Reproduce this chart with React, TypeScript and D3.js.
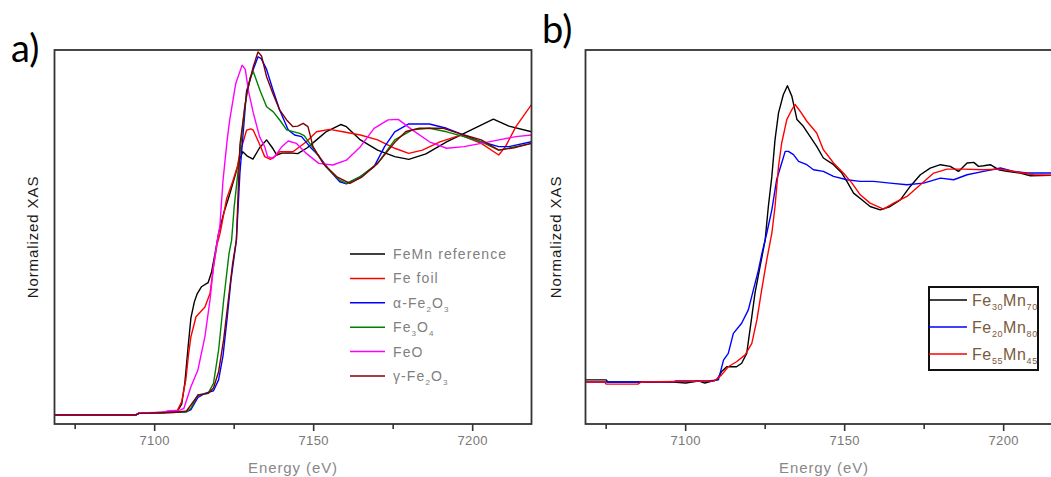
import React from "react"
import * as d3 from "d3"

const energyDomain = [7068.5, 7218.5]
const majorTicks = [7100, 7150, 7200]
const minorTicks = [7075, 7125, 7175]

// panel a: reference compounds, [energy, normalized XAS]
const feMnRef = [[7068.5,0],[7094,0],[7095,0.006],[7107,0.012],[7108.5,0.04],[7109.5,0.12],[7110.5,0.25],[7111.4,0.36],[7112.5,0.42],[7113.4,0.45],[7114.7,0.475],[7116.8,0.49],[7117.9,0.53],[7119,0.6],[7120.1,0.673],[7121.7,0.747],[7123.4,0.81],[7125.5,0.895],[7126.6,0.944],[7127.7,0.975],[7129,0.96],[7130.9,0.948],[7133,0.99],[7135.2,1.019],[7137,0.99],[7138.4,0.963],[7140,0.97],[7142.5,0.971],[7145,0.968],[7148,0.99],[7150.9,1.019],[7154,1.05],[7158.5,1.076],[7160.3,1.068],[7164.7,1.019],[7170.1,0.981],[7175.5,0.957],[7179.9,0.947],[7185.3,0.967],[7191.8,1.012],[7197.3,1.043],[7206.5,1.096],[7211.4,1.07],[7218.5,1.049]]
const feFoil = [[7068.5,0],[7094,0],[7095,0.006],[7103,0.008],[7104,0.012],[7107,0.014],[7108.5,0.05],[7109.8,0.13],[7110.6,0.22],[7111.4,0.29],[7113,0.364],[7115.8,0.4],[7117.4,0.45],[7118.5,0.55],[7119.6,0.63],[7120.5,0.67],[7121,0.7],[7122.6,0.8],[7124.5,0.864],[7126,0.92],[7126.8,0.97],[7128.9,1.055],[7130.2,1.06],[7131,1.055],[7133.1,1.0],[7134.6,0.957],[7136.4,0.947],[7138,0.96],[7139.3,0.975],[7143.5,0.975],[7147.7,1.012],[7150.9,1.049],[7155,1.058],[7159.2,1.049],[7164.7,1.037],[7170.1,1.019],[7175.5,0.988],[7179.9,0.969],[7184.2,0.981],[7189.7,1.012],[7196.2,1.037],[7202.7,1.006],[7208.2,0.963],[7210.3,0.994],[7213.6,1.068],[7218.5,1.15]]
const alphaFe2O3 = [[7068.5,0],[7094,0],[7095,0.006],[7107,0.01],[7110,0.012],[7111.4,0.02],[7113.6,0.065],[7115.8,0.08],[7118.5,0.09],[7120.1,0.13],[7121.5,0.22],[7122.8,0.36],[7124,0.5],[7125.7,0.648],[7126.8,0.895],[7128.9,1.2],[7131,1.28],[7132.5,1.327],[7133.5,1.32],[7135.2,1.28],[7137.2,1.204],[7139.3,1.13],[7142,1.056],[7144,1.037],[7146.2,1.031],[7148.8,0.994],[7151.6,0.96],[7154.9,0.907],[7158.2,0.864],[7160.3,0.856],[7164.7,0.883],[7169,0.92],[7172.3,0.994],[7175.5,1.049],[7179.9,1.078],[7186.4,1.078],[7191.8,1.062],[7197.3,1.037],[7202.7,1.012],[7208.2,0.994],[7211.4,0.994],[7218.5,1.012]]
const fe3O4 = [[7068.5,0],[7094,0],[7095,0.006],[7107,0.01],[7110,0.012],[7111.4,0.025],[7113.6,0.074],[7116.8,0.08],[7118.5,0.117],[7120.1,0.24],[7121.7,0.426],[7123.4,0.6],[7124.2,0.648],[7125,0.77],[7126.6,0.944],[7128.3,1.14],[7130,1.25],[7131,1.272],[7133.2,1.2],[7135.2,1.142],[7137.3,1.123],[7139.5,1.09],[7141.5,1.056],[7145.6,1.043],[7147,1.035],[7149.5,0.994],[7153.8,0.92],[7158.2,0.87],[7160.3,0.858],[7164.7,0.883],[7170.1,0.932],[7175.5,1.019],[7181,1.056],[7186.4,1.062],[7191.8,1.049],[7197.3,1.031],[7202.7,1.012],[7208.2,0.981],[7213.6,0.994],[7218.5,1.006]]
const feO = [[7068.5,0],[7094,0],[7095,0.008],[7103,0.01],[7104,0.015],[7108,0.018],[7109.2,0.025],[7111.4,0.105],[7113.6,0.167],[7115.8,0.29],[7117.4,0.426],[7118.5,0.55],[7119.6,0.64],[7120.5,0.7],[7121.5,0.87],[7122.8,1.019],[7123.6,1.093],[7125.5,1.228],[7127.5,1.296],[7128.5,1.28],[7129.5,1.2],[7131,1.12],[7133,1.03],[7134.6,0.994],[7135.5,0.957],[7137.2,0.95],[7138.5,0.97],[7140,0.994],[7142,1.015],[7144.6,1.006],[7147.7,0.969],[7151.6,0.932],[7156,0.926],[7160.3,0.944],[7164.7,0.994],[7169,1.062],[7173.4,1.093],[7176.6,1.095],[7181,1.056],[7186.4,1.012],[7191.8,0.988],[7197.3,0.994],[7202.7,1.006],[7208.2,1.019],[7213.6,1.031],[7218.5,1.037]]
const gammaFe2O3 = [[7068.5,0],[7094,0],[7095,0.006],[7107,0.01],[7110,0.015],[7111.4,0.037],[7113.6,0.074],[7116.8,0.08],[7118.5,0.1],[7120.1,0.16],[7121.7,0.28],[7123.4,0.45],[7124.5,0.56],[7125.7,0.648],[7126.8,1.0],[7128.9,1.19],[7131,1.29],[7132.5,1.345],[7133.6,1.33],[7135.2,1.253],[7137.2,1.19],[7139.3,1.13],[7141.5,1.093],[7143.5,1.068],[7145,1.07],[7146.7,1.08],[7148.2,1.068],[7149.8,0.994],[7153,0.932],[7157.2,0.883],[7161.4,0.858],[7165,0.88],[7170.1,0.932],[7175.5,1.01],[7179,1.05],[7183.2,1.062],[7190.8,1.062],[7197.3,1.037],[7202.7,1.019],[7208.2,0.981],[7213,0.99],[7218.5,1.006]]

// panel b: FeMn samples
const fe30Mn70 = [[7068.5,0.01],[7075,0.01],[7075.5,0],[7096,0],[7100,-0.005],[7104,0.005],[7106,-0.005],[7109.8,0.01],[7111.3,0.05],[7112.9,0.073],[7116,0.073],[7117.6,0.09],[7119.2,0.137],[7120.8,0.313],[7121.8,0.425],[7123.4,0.553],[7125,0.68],[7126,0.84],[7127.1,0.984],[7128.1,1.16],[7129.2,1.288],[7130.7,1.375],[7132,1.418],[7133.4,1.367],[7135,1.256],[7137,1.224],[7139.1,1.176],[7141.2,1.128],[7143.3,1.072],[7146.5,1.04],[7149.1,1.0],[7150.7,0.96],[7152.8,0.904],[7155.4,0.872],[7158,0.84],[7161.2,0.824],[7164.3,0.84],[7167.5,0.872],[7170.6,0.936],[7173.8,0.992],[7176.9,1.024],[7180.1,1.04],[7183.2,1.032],[7185.8,1.008],[7188.5,1.048],[7190.6,1.051],[7192.1,1.032],[7193.7,1.035],[7195.8,1.04],[7198.4,1.016],[7201,1.008],[7205.2,1.0],[7208.4,0.987],[7218.5,0.99]]
const fe20Mn80 = [[7068.5,0],[7096,0],[7097,0.005],[7107,0.005],[7110.3,0.01],[7111.9,0.105],[7113.4,0.137],[7115,0.233],[7117.6,0.281],[7119.7,0.345],[7121.3,0.441],[7122.9,0.537],[7124,0.617],[7125.5,0.712],[7127.1,0.824],[7128.6,0.968],[7130.2,1.048],[7131.3,1.104],[7132.3,1.104],[7133.9,1.088],[7135.5,1.056],[7138.1,1.04],[7140.2,1.016],[7143.3,1.008],[7146.5,0.984],[7150.7,0.968],[7154.9,0.96],[7159.1,0.96],[7164.3,0.952],[7169.6,0.944],[7174.8,0.952],[7180.1,0.976],[7184.3,0.968],[7188.5,0.992],[7193.7,1.008],[7199,1.024],[7203.1,1.008],[7207.3,1.0],[7218.5,1.0]]
const fe55Mn45 = [[7068.5,0],[7074.5,0],[7075,-0.01],[7085,-0.01],[7086,0],[7109,0.005],[7111.3,0.034],[7113.4,0.073],[7116,0.097],[7118.7,0.13],[7120.8,0.185],[7122.4,0.297],[7123.9,0.441],[7125.5,0.585],[7127.1,0.712],[7128.1,0.84],[7129.2,1.032],[7130.2,1.144],[7131.8,1.256],[7133.4,1.304],[7134.4,1.328],[7136,1.296],[7138.1,1.248],[7141.2,1.192],[7143.3,1.112],[7146.5,1.048],[7149.6,1.0],[7152.3,0.952],[7154.9,0.896],[7158,0.856],[7162.2,0.827],[7165.4,0.856],[7169.6,0.888],[7173.8,0.944],[7178,1.0],[7182.2,1.019],[7187.4,1.019],[7193.7,1.016],[7199,1.019],[7205.2,1.003],[7209.4,0.992],[7218.5,0.989]]

// label parts: [text, isSubscript]
const seriesA = [
  { label: [["FeMn reference", false]], color: "#000000", data: feMnRef },
  { label: [["Fe foil", false]], color: "#ff0000", data: feFoil },
  { label: [["α-Fe", false], ["2", true], ["O", false], ["3", true]], color: "#0000ff", data: alphaFe2O3 },
  { label: [["Fe", false], ["3", true], ["O", false], ["4", true]], color: "#008000", data: fe3O4 },
  { label: [["FeO", false]], color: "#ff00ff", data: feO },
  { label: [["γ-Fe", false], ["2", true], ["O", false], ["3", true]], color: "#800000", data: gammaFe2O3 },
]

const seriesB = [
  { label: [["Fe", false], ["30", true], ["Mn", false], ["70", true]], color: "#000000", data: fe30Mn70 },
  { label: [["Fe", false], ["20", true], ["Mn", false], ["80", true]], color: "#0000ff", data: fe20Mn80 },
  { label: [["Fe", false], ["55", true], ["Mn", false], ["45", true]], color: "#ff0000", data: fe55Mn45 },
]

const FONT = "'Liberation Sans', Arial, sans-serif"
const TOP = 50
const BOTTOM = 424

function Label({ parts, x, y, size, subSize, fill, spacing }) {
  let shift = 0
  return (
    <text x={x} y={y} fontSize={size} fill={fill} fontFamily={FONT} letterSpacing={spacing}>
      {parts.map(([t, sub], i) => {
        const dy = sub ? 4 - shift : -shift
        shift = sub ? 4 : 0
        return (
          <tspan key={i} dy={dy} fontSize={sub ? subSize : size}>{t}</tspan>
        )
      })}
    </text>
  )
}

function Panel({ id, left, yDomain, series, tag, tagX, tagY, titleX, legend }) {
  const x = d3.scaleLinear().domain(energyDomain).range([left, left + 477])
  const y = d3.scaleLinear().domain(yDomain).range([BOTTOM, TOP])
  const line = d3.line().x(d => x(d[0])).y(d => y(d[1]))
  const cx = left + 477 / 2

  return (
    <g>
      <defs>
        <clipPath id={id}>
          <rect x={left} y={TOP} width={477} height={BOTTOM - TOP} />
        </clipPath>
      </defs>
      <g clipPath={`url(#${id})`}>
        {series.map((s, i) => (
          <path key={i} d={line(s.data)} fill="none" stroke={s.color} strokeWidth={1.4} strokeLinejoin="round" />
        ))}
      </g>
      <rect x={left} y={TOP} width={477} height={BOTTOM - TOP} fill="none" stroke="#333" strokeWidth={1.8} />
      {majorTicks.map(t => (
        <g key={t}>
          <line x1={x(t)} x2={x(t)} y1={BOTTOM} y2={BOTTOM + 7} stroke="#333" strokeWidth={1.6} />
          <text x={x(t)} y={445} textAnchor="middle" fontSize={13} fill="#777" fontFamily={FONT} letterSpacing={0.3}>{t}</text>
        </g>
      ))}
      {minorTicks.map(t => (
        <line key={t} x1={x(t)} x2={x(t)} y1={BOTTOM} y2={BOTTOM + 5} stroke="#333" strokeWidth={1.6} />
      ))}
      <text x={cx} y={473} textAnchor="middle" fontSize={15} fill="#888" fontFamily={FONT} letterSpacing={0.9}>Energy (eV)</text>
      <text transform={`translate(${titleX},${(TOP + BOTTOM) / 2}) rotate(-90)`} textAnchor="middle" fontSize={15} fill="#1a1a1a" fontFamily={FONT} letterSpacing={0.9}>Normalized XAS</text>
      <text x={tagX} y={tagY} fontSize={38} fontFamily="Lato, 'Open Sans', sans-serif" fill="#000">{tag}</text>
      {legend(series)}
    </g>
  )
}

const legendA = (series) => (
  <g>
    {series.map((s, i) => {
      const ly = 254 + i * 24.4
      return (
        <g key={i}>
          <line x1={350} x2={385} y1={ly} y2={ly} stroke={s.color} strokeWidth={1.5} />
          <Label parts={s.label} x={393} y={ly + 5} size={14} subSize={8} fill="#808080" spacing={1.1} />
        </g>
      )
    })}
  </g>
)

const legendB = (series) => (
  <g>
    <rect x={929} y={287} width={109} height={83} fill="#fff" stroke="#111" strokeWidth={2} />
    {series.map((s, i) => {
      const ly = 300 + i * 27
      return (
        <g key={i}>
          <line x1={929} x2={967} y1={ly} y2={ly} stroke={s.color} strokeWidth={1.5} />
          <Label parts={s.label} x={972} y={ly + 6} size={16} subSize={9} fill="#7b5a3c" spacing={0.6} />
        </g>
      )
    })}
  </g>
)

export default function App() {
  return (
    <svg width={1051} height={477} style={{ position: "absolute", left: 0, top: 0, background: "#fff" }}>
      <rect width={1051} height={477} fill="#fff" />
      <Panel id="clipA" left={54.5} yDomain={[-0.0333, 1.352]} series={seriesA} tag="a)" tagX={11} tagY={62} titleX={38} legend={legendA} />
      <Panel id="clipB" left={585.5} yDomain={[-0.201, 1.589]} series={seriesB} tag="b)" tagX={542} tagY={43} titleX={561} legend={legendB} />
    </svg>
  )
}
